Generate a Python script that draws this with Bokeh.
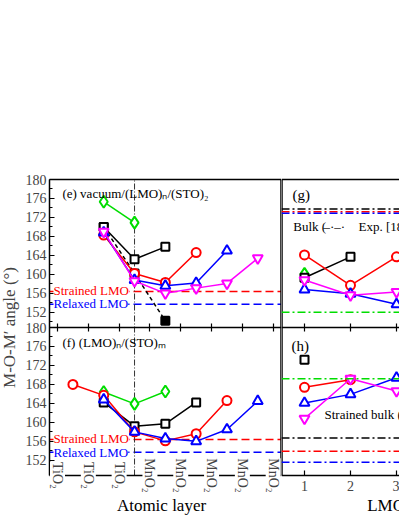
import numpy as np
from bokeh.plotting import figure
from bokeh.models import (Range1d, LinearAxis, FixedTicker, Span, Label,
                          LabelSet, ColumnDataSource, CustomJSTickFormatter)
from bokeh.layouts import row
from bokeh.embed import file_html
from bokeh.resources import INLINE

FONT = "Liberation Serif"

# ---------------- data ----------------
layer_pos = [0, 1, 2, 3, 4, 5, 6, 7]
layer_labels = ["TiO₂", "TiO₂", "TiO₂", "MnO₂", "MnO₂", "MnO₂", "MnO₂", "MnO₂"]
interface_x = 2.5
y_ticks = [152, 156, 160, 164, 168, 172, 176, 180]
y_minor = [150, 154, 158, 162, 166, 170, 174, 178]
lmo_ticks = [1, 2, 3, 4, 5]

# panel (e): vacuum/(LMO)n/(STO)2
e_green_x = [1.5, 2.5]
e_green_y = [175.3, 170.9]
e_black_x = [1.5, 2.5, 3.5]
e_black_y = [170.0, 163.2, 165.8]
e_black2_x = [1.5, 2.5, 3.5]
e_black2_y = [170.0, 160.2, 150.2]
e_red_x = [1.5, 2.5, 3.5, 4.5]
e_red_y = [168.3, 160.2, 158.3, 164.6]
e_blue_x = [1.5, 2.5, 3.5, 4.5, 5.5]
e_blue_y = [168.8, 158.8, 157.6, 158.2, 165.0]
e_mag_x = [1.5, 2.5, 3.5, 4.5, 5.5, 6.5]
e_mag_y = [169.0, 158.6, 156.0, 157.1, 158.1, 163.4]

# panel (f): (LMO)n/(STO)m
f_red_x = [0.5, 1.5, 2.5, 3.5, 4.5, 5.5]
f_red_y = [168.0, 165.7, 158.0, 156.1, 157.6, 164.6]
f_green_x = [1.5, 2.5, 3.5]
f_green_y = [166.4, 163.9, 166.5]
f_black_x = [1.5, 2.5, 3.5, 4.5]
f_black_y = [164.2, 159.2, 159.7, 164.2]
f_blue_x = [1.5, 2.5, 3.5, 4.5, 5.5, 6.5]
f_blue_y = [164.8, 158.0, 156.6, 156.0, 158.5, 164.5]

strained_lmo = 156.4
relaxed_lmo = 153.7

# panel (g)
g_green_x = [1]
g_green_y = [160.1]
g_black_x = [1, 2]
g_black_y = [159.3, 163.7]
g_red_x = [1, 2, 3]
g_red_y = [164.1, 157.7, 163.7]
g_blue_x = [1, 2, 3]
g_blue_y = [156.8, 155.9, 153.7]
g_mag_x = [1, 2, 3]
g_mag_y = [158.8, 155.6, 156.3]
g_ref_black = 173.8
g_ref_red = 173.2
g_ref_blue = 172.9
g_ref_green = 152.0

# panel (h)
h_black_x = [1]
h_black_y = [173.2]
h_red_x = [1, 2]
h_red_y = [167.4, 169.0]
h_blue_x = [1, 2, 3]
h_blue_y = [164.1, 165.9, 169.4]
h_mag_x = [1, 2, 3]
h_mag_y = [160.8, 169.2, 166.6]
h_ref_black = 156.7
h_ref_red = 153.9
h_ref_blue = 151.6
h_ref_green = 169.2

# ---------------- layout constants ----------------
LO, HI = 148.8, 180.0
SPAN = HI - LO
PANEL_PX = 148
PXDEG = PANEL_PX / SPAN
TOP_PAD_PX = 10
BOT_PX = 40
FRAME_H = 2 * PANEL_PX + TOP_PAD_PX + BOT_PX
EXTRA = BOT_PX / PXDEG           # room below the lower panel
PAD = TOP_PAD_PX / PXDEG         # room above the upper panel
TOP = HI + SPAN
LOW_RANGE = (LO - EXTRA, TOP + PAD)          # lower panel (f, h) coordinates
UP_RANGE = (LO - SPAN - EXTRA, HI + PAD)     # upper panel (e, g) coordinates

GREEN = "#00dd00"
MAG = "#ff00ff"


def base_fig(fw, xr):
    p = figure(frame_width=fw, frame_height=FRAME_H, x_range=Range1d(*xr),
               y_range=Range1d(*LOW_RANGE), output_backend="svg",
               toolbar_location=None, x_axis_location=None, y_axis_location=None,
               min_border_left=0, min_border_right=0,
               min_border_top=179 - TOP_PAD_PX, min_border_bottom=0,
               background_fill_color="white", border_fill_color="white",
               outline_line_color=None)
    p.extra_y_ranges = {"up": Range1d(*UP_RANGE)}
    p.xgrid.visible = False
    p.ygrid.visible = False
    return p


def spine(p, side, loc, ticks=(), tin=0, tout=0, width=1.5, bounds=None,
          labels=False):
    ax = LinearAxis(ticker=FixedTicker(ticks=list(ticks)), fixed_location=loc,
                    major_tick_in=tin, major_tick_out=tout,
                    major_tick_line_width=1.2, minor_tick_line_color=None,
                    axis_line_width=width, axis_line_color="black")
    if not ticks:
        ax.major_tick_line_color = None
    if labels:
        ax.major_label_text_font = FONT
        ax.major_label_text_font_size = "14px"
        ax.major_label_standoff = 5
    else:
        ax.major_label_text_color = None
    if bounds is not None:
        ax.bounds = bounds
    p.add_layout(ax, side)
    return ax


def series(p, x, y, color, marker, size, rng="default", dash="solid", fill="white"):
    p.line(x, y, line_color=color, line_width=1.5, line_dash=dash, y_range_name=rng)
    p.scatter(x, y, marker=marker, size=size, line_color=color, fill_color=fill,
              line_width=2, y_range_name=rng)


def text(p, x, y, s, size="13px", color="black", rng="default", align="left",
         bg=None):
    lab = Label(x=x, y=y, text=s, y_range_name=rng, text_font=FONT,
                text_font_size=size, text_color=color, text_align=align,
                text_baseline="middle")
    if bg:
        lab.background_fill_color = bg
    p.add_layout(lab)


# ---------------- left column: (e) and (f) ----------------
PXL = 232 / 7.53                      # pixels per layer
XL = (-0.26, 7.27)                    # axis box of the left panels
left = base_fig(281, (XL[0] - 49 / PXL, XL[1]))

ytick_all = y_ticks + [t + SPAN for t in y_ticks]
yminor_all = y_minor + [t + SPAN for t in y_minor]
yax = LinearAxis(ticker=FixedTicker(ticks=ytick_all, minor_ticks=yminor_all),
                 formatter=CustomJSTickFormatter(
                     args=dict(hi=HI, span=SPAN),
                     code="return (tick > hi + 0.5 ? tick - span : tick).toFixed(0);"),
                 fixed_location=XL[0], bounds=(LO, TOP),
                 axis_line_color="black", axis_line_width=1.5,
                 major_tick_in=5, major_tick_out=0, minor_tick_in=3, minor_tick_out=0,
                 major_tick_line_width=1.2, major_label_text_font=FONT,
                 major_label_text_font_size="14px", major_label_standoff=3,
                 axis_label="M-O-M′ angle (°)", axis_label_text_font=FONT,
                 axis_label_text_font_size="17px", axis_label_text_font_style="normal",
                 axis_label_standoff=4)
left.add_layout(yax, "left")

spine(left, "above", TOP, bounds=XL)
spine(left, "right", XL[1], width=2.5, bounds=(LO, TOP))
spine(left, "below", HI, ticks=layer_pos, tin=4, tout=4, bounds=XL)
spine(left, "below", LO, bounds=XL)

for rng in ("default", "up"):
    left.segment(x0=[XL[0]], y0=[strained_lmo], x1=[XL[1]], y1=[strained_lmo],
                 line_color="red", line_dash="8 4", line_width=1.5, y_range_name=rng)
    left.segment(x0=[XL[0]], y0=[relaxed_lmo], x1=[XL[1]], y1=[relaxed_lmo],
                 line_color="blue", line_dash="8 4", line_width=1.5, y_range_name=rng)
left.segment(x0=[interface_x], y0=[LO], x1=[interface_x], y1=[TOP],
             line_color="#333333", line_dash="6 2 1 2", line_width=1)

# panel e
series(left, e_green_x, e_green_y, GREEN, "diamond", 12, "up")
series(left, e_black2_x, e_black2_y, "black", "square", 8, "up", dash="4 3", fill="black")
series(left, e_black_x, e_black_y, "black", "square", 8, "up")
series(left, e_red_x, e_red_y, "red", "circle", 9, "up")
series(left, e_blue_x, e_blue_y, "blue", "triangle", 10, "up")
series(left, e_mag_x, e_mag_y, MAG, "inverted_triangle", 10, "up")
# panel f
series(left, f_green_x, f_green_y, GREEN, "diamond", 12)
series(left, f_black_x, f_black_y, "black", "square", 8)
series(left, f_red_x, f_red_y, "red", "circle", 9)
series(left, f_blue_x, f_blue_y, "blue", "triangle", 10)

text(left, 0.16, 177.05, "(e) vacuum/(LMO)ₙ/(STO)₂", rng="up")
text(left, 0.16, 176.9, "(f) (LMO)ₙ/(STO)ₘ")
for rng, ys, yr in (("up", 156.7, 153.8), ("default", 156.5, 153.7)):
    text(left, -0.13, ys, "Strained LMO", color="red", rng=rng, bg="white")
    text(left, -0.13, yr, "Relaxed LMO", color="blue", rng=rng, bg="white")

lab_src = ColumnDataSource(dict(x=layer_pos, y=[LO] * len(layer_pos), text=layer_labels))
left.add_layout(LabelSet(x="x", y="y", text="text", source=lab_src, angle=-np.pi / 2,
                         text_align="center", text_baseline="middle", text_font=FONT,
                         text_font_size="14px", background_fill_color="white"))
text(left, 3.375, LO - 30 / PXDEG, "Atomic layer", size="17px", align="center")

# ---------------- right column: (g) and (h) ----------------
XR = (0.5, 0.5 + 118 / 46)
right = base_fig(118, XR)

spine(right, "left", XR[0], width=2.5, bounds=(LO, TOP))
spine(right, "above", TOP)
spine(right, "below", HI, ticks=lmo_ticks, tin=4, tout=4)
spine(right, "below", LO, ticks=lmo_ticks, tin=5, tout=0, labels=True)

for loc, col in ((g_ref_black, "black"), (g_ref_red, "red"), (g_ref_blue, "blue"),
                 (g_ref_green, GREEN)):
    right.add_layout(Span(location=loc, dimension="width", line_color=col,
                          line_dash="8 3 2 3", line_width=1.5, y_range_name="up"))
for loc, col in ((h_ref_black, "black"), (h_ref_red, "red"), (h_ref_blue, "blue"),
                 (h_ref_green, GREEN)):
    right.add_layout(Span(location=loc, dimension="width", line_color=col,
                          line_dash="8 3 2 3", line_width=1.5))

series(right, g_green_x, g_green_y, GREEN, "diamond", 12, "up")
series(right, g_black_x, g_black_y, "black", "square", 8, "up")
series(right, g_red_x, g_red_y, "red", "circle", 9, "up")
series(right, g_blue_x, g_blue_y, "blue", "triangle", 10, "up")
series(right, g_mag_x, g_mag_y, MAG, "inverted_triangle", 10, "up")

series(right, h_black_x, h_black_y, "black", "square", 8)
series(right, h_red_x, h_red_y, "red", "circle", 9)
series(right, h_blue_x, h_blue_y, "blue", "triangle", 10)
series(right, h_mag_x, h_mag_y, MAG, "inverted_triangle", 10)

text(right, 0.739, 176.8, "(g)", size="15px", rng="up")
text(right, 0.755, 170.1, "Bulk (", rng="up")
text(right, 1.413, 170.1, "–·–·", rng="up")
text(right, 2.174, 170.1, "Exp. [18])", rng="up")
text(right, 0.717, 176.0, "(h)", size="15px")
text(right, 1.435, 161.7, "Strained bulk (")
text(right, 2.363, LO - 30 / PXDEG, "LMO layers", size="17px")

layout = row(left, right)
open("out.html", "w").write(file_html(layout, INLINE))
